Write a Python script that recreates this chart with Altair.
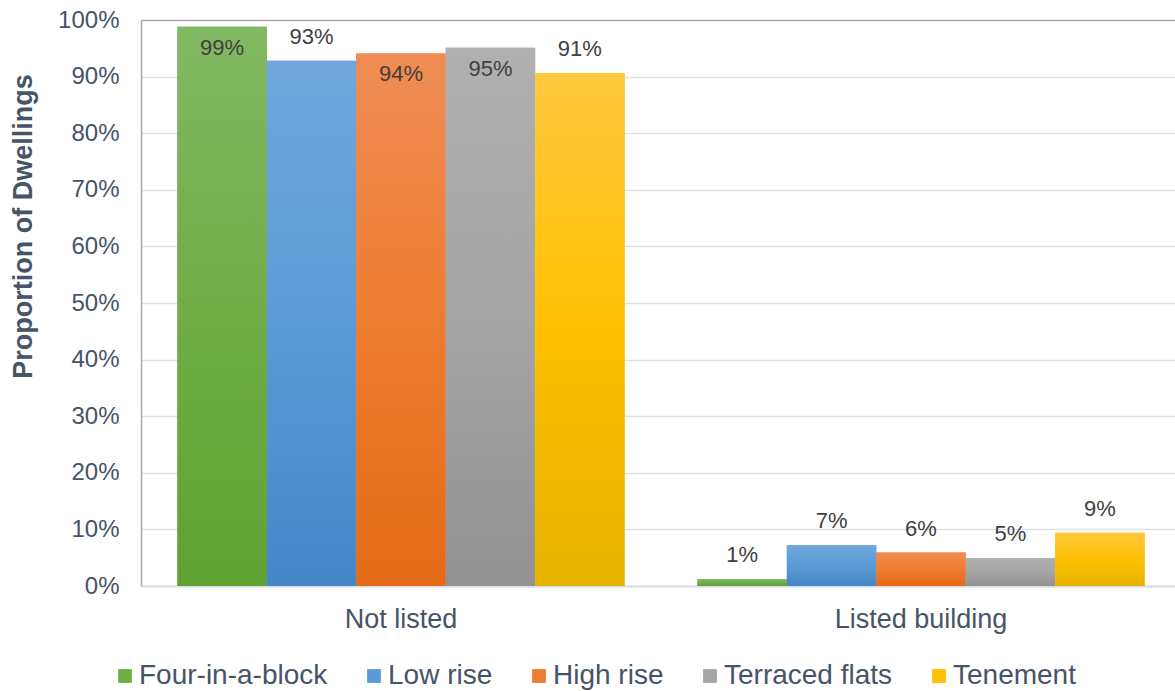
import altair as alt
import pandas as pd

# Listed-building status of dwellings, by dwelling type (percent of dwellings)
groups = ["Not listed", "Listed building"]
series = ["Four-in-a-block", "Low rise", "High rise", "Terraced flats", "Tenement"]
not_listed = [98.8, 92.8, 94.1, 95.1, 90.6]
listed = [1.2, 7.2, 5.9, 4.9, 9.4]

# Whether each value label sits inside the top of its bar (else above it)
label_inside_not_listed = [True, False, True, True, False]
label_inside_listed = [False, False, False, False, False]

# Office palette: base colour plus lighter top / darker bottom for the gradient fill
base_colors = ["#70AD47", "#5B9BD5", "#ED7D31", "#A5A5A5", "#FFC000"]
top_colors = ["#82b963", "#70a8dd", "#f08d54", "#b0b0b0", "#ffc93f"]
bottom_colors = ["#5fa232", "#4487c7", "#e46a17", "#929292", "#e5b300"]

FONT = "Liberation Sans, Arial, sans-serif"
TEXT = "#465468"

rows = []
for g, vals, ins in [("Not listed", not_listed, label_inside_not_listed),
                     ("Listed building", listed, label_inside_listed)]:
    for s, v, i in zip(series, vals, ins):
        rows.append({"group": g, "series": s, "share": v / 100.0, "inside": i})
df = pd.DataFrame(rows)

x_enc = alt.X(
    "group:N",
    sort=groups,
    scale=alt.Scale(domain=groups, paddingInner=0.14, paddingOuter=0.07, range=[0, 1040]),
    axis=alt.Axis(
        title=None, labelAngle=0, labelFontSize=27, labelFont=FONT, labelColor=TEXT,
        labelPadding=20, ticks=False, domainColor="#d9dee5", domainWidth=2, grid=False,
    ),
)
xoff_enc = alt.XOffset("series:N", sort=series, scale=alt.Scale(domain=series, paddingInner=0, paddingOuter=0))
y_enc = alt.Y(
    "share:Q",
    scale=alt.Scale(domain=[0, 1], nice=False),
    axis=alt.Axis(
        values=[i / 10 for i in range(11)],
        format=".0%",
        grid=True,
        gridColor={"condition": {"test": "datum.value >= 0.999", "value": "#a9a9a9"}, "value": "#dde2e9"},
        gridWidth=1.5,
        ticks=False,
        domainColor="#a9a9a9",
        domainWidth=1.5,
        labelFontSize=24,
        labelFont=FONT,
        labelColor=TEXT,
        labelPadding=22,
        title="Proportion of Dwellings",
        titleFont=FONT,
        titleFontSize=27,
        titleFontWeight="bold",
        titleColor=TEXT,
        titleX=-118,
        titleY=206,
        titleAngle=270,
        titleAlign="center",
        titleBaseline="middle",
    ),
)

base = alt.Chart(df)

# Solid bars carry the colour legend; gradient bars are drawn over them
legend_bars = base.mark_bar().encode(
    x=x_enc,
    xOffset=xoff_enc,
    y=y_enc,
    color=alt.Color(
        "series:N",
        sort=series,
        scale=alt.Scale(domain=series, range=base_colors),
        legend=alt.Legend(
            orient="none", direction="horizontal", legendX=-30, legendY=642,
            title=None, symbolType="square", symbolSize=190, symbolStrokeWidth=0,
            labelFontSize=28, labelFont=FONT, labelColor=TEXT, labelOffset=0,
            labelLimit=0, columnPadding=32, padding=0,
        ),
    ),
)

gradient_layers = []
for s, c_top, c_mid, c_bot in zip(series, top_colors, base_colors, bottom_colors):
    grad = alt.LinearGradient(
        gradient="linear", x1=0, x2=0, y1=0, y2=1,
        stops=[
            alt.GradientStop(offset=0, color=c_top),
            alt.GradientStop(offset=0.5, color=c_mid),
            alt.GradientStop(offset=1, color=c_bot),
        ],
    )
    gradient_layers.append(
        base.transform_filter(alt.datum.series == s)
        .mark_bar(fill=grad)
        .encode(x=x_enc, xOffset=xoff_enc, y=y_enc)
    )

label_style = dict(fontSize=22, font=FONT, color="#404040", baseline="middle", align="center")
labels_inside = base.transform_filter(alt.datum.inside).mark_text(dy=21, **label_style).encode(
    x=x_enc, xOffset=xoff_enc, y=y_enc, text=alt.Text("share:Q", format=".0%")
)
labels_above = base.transform_filter(~alt.datum.inside).mark_text(dy=-24, **label_style).encode(
    x=x_enc, xOffset=xoff_enc, y=y_enc, text=alt.Text("share:Q", format=".0%")
)

chart = (
    alt.layer(legend_bars, *gradient_layers, labels_inside, labels_above)
    .properties(
        width=1034,
        height=566,
        autosize=alt.AutoSizeParams(type="none"),
        padding={"left": 141, "top": 20, "right": 0, "bottom": 105},
    )
    .configure_view(stroke=None)
    .configure(background="white")
)

chart.save("out.html", embed_options={"renderer": "svg", "actions": False})
